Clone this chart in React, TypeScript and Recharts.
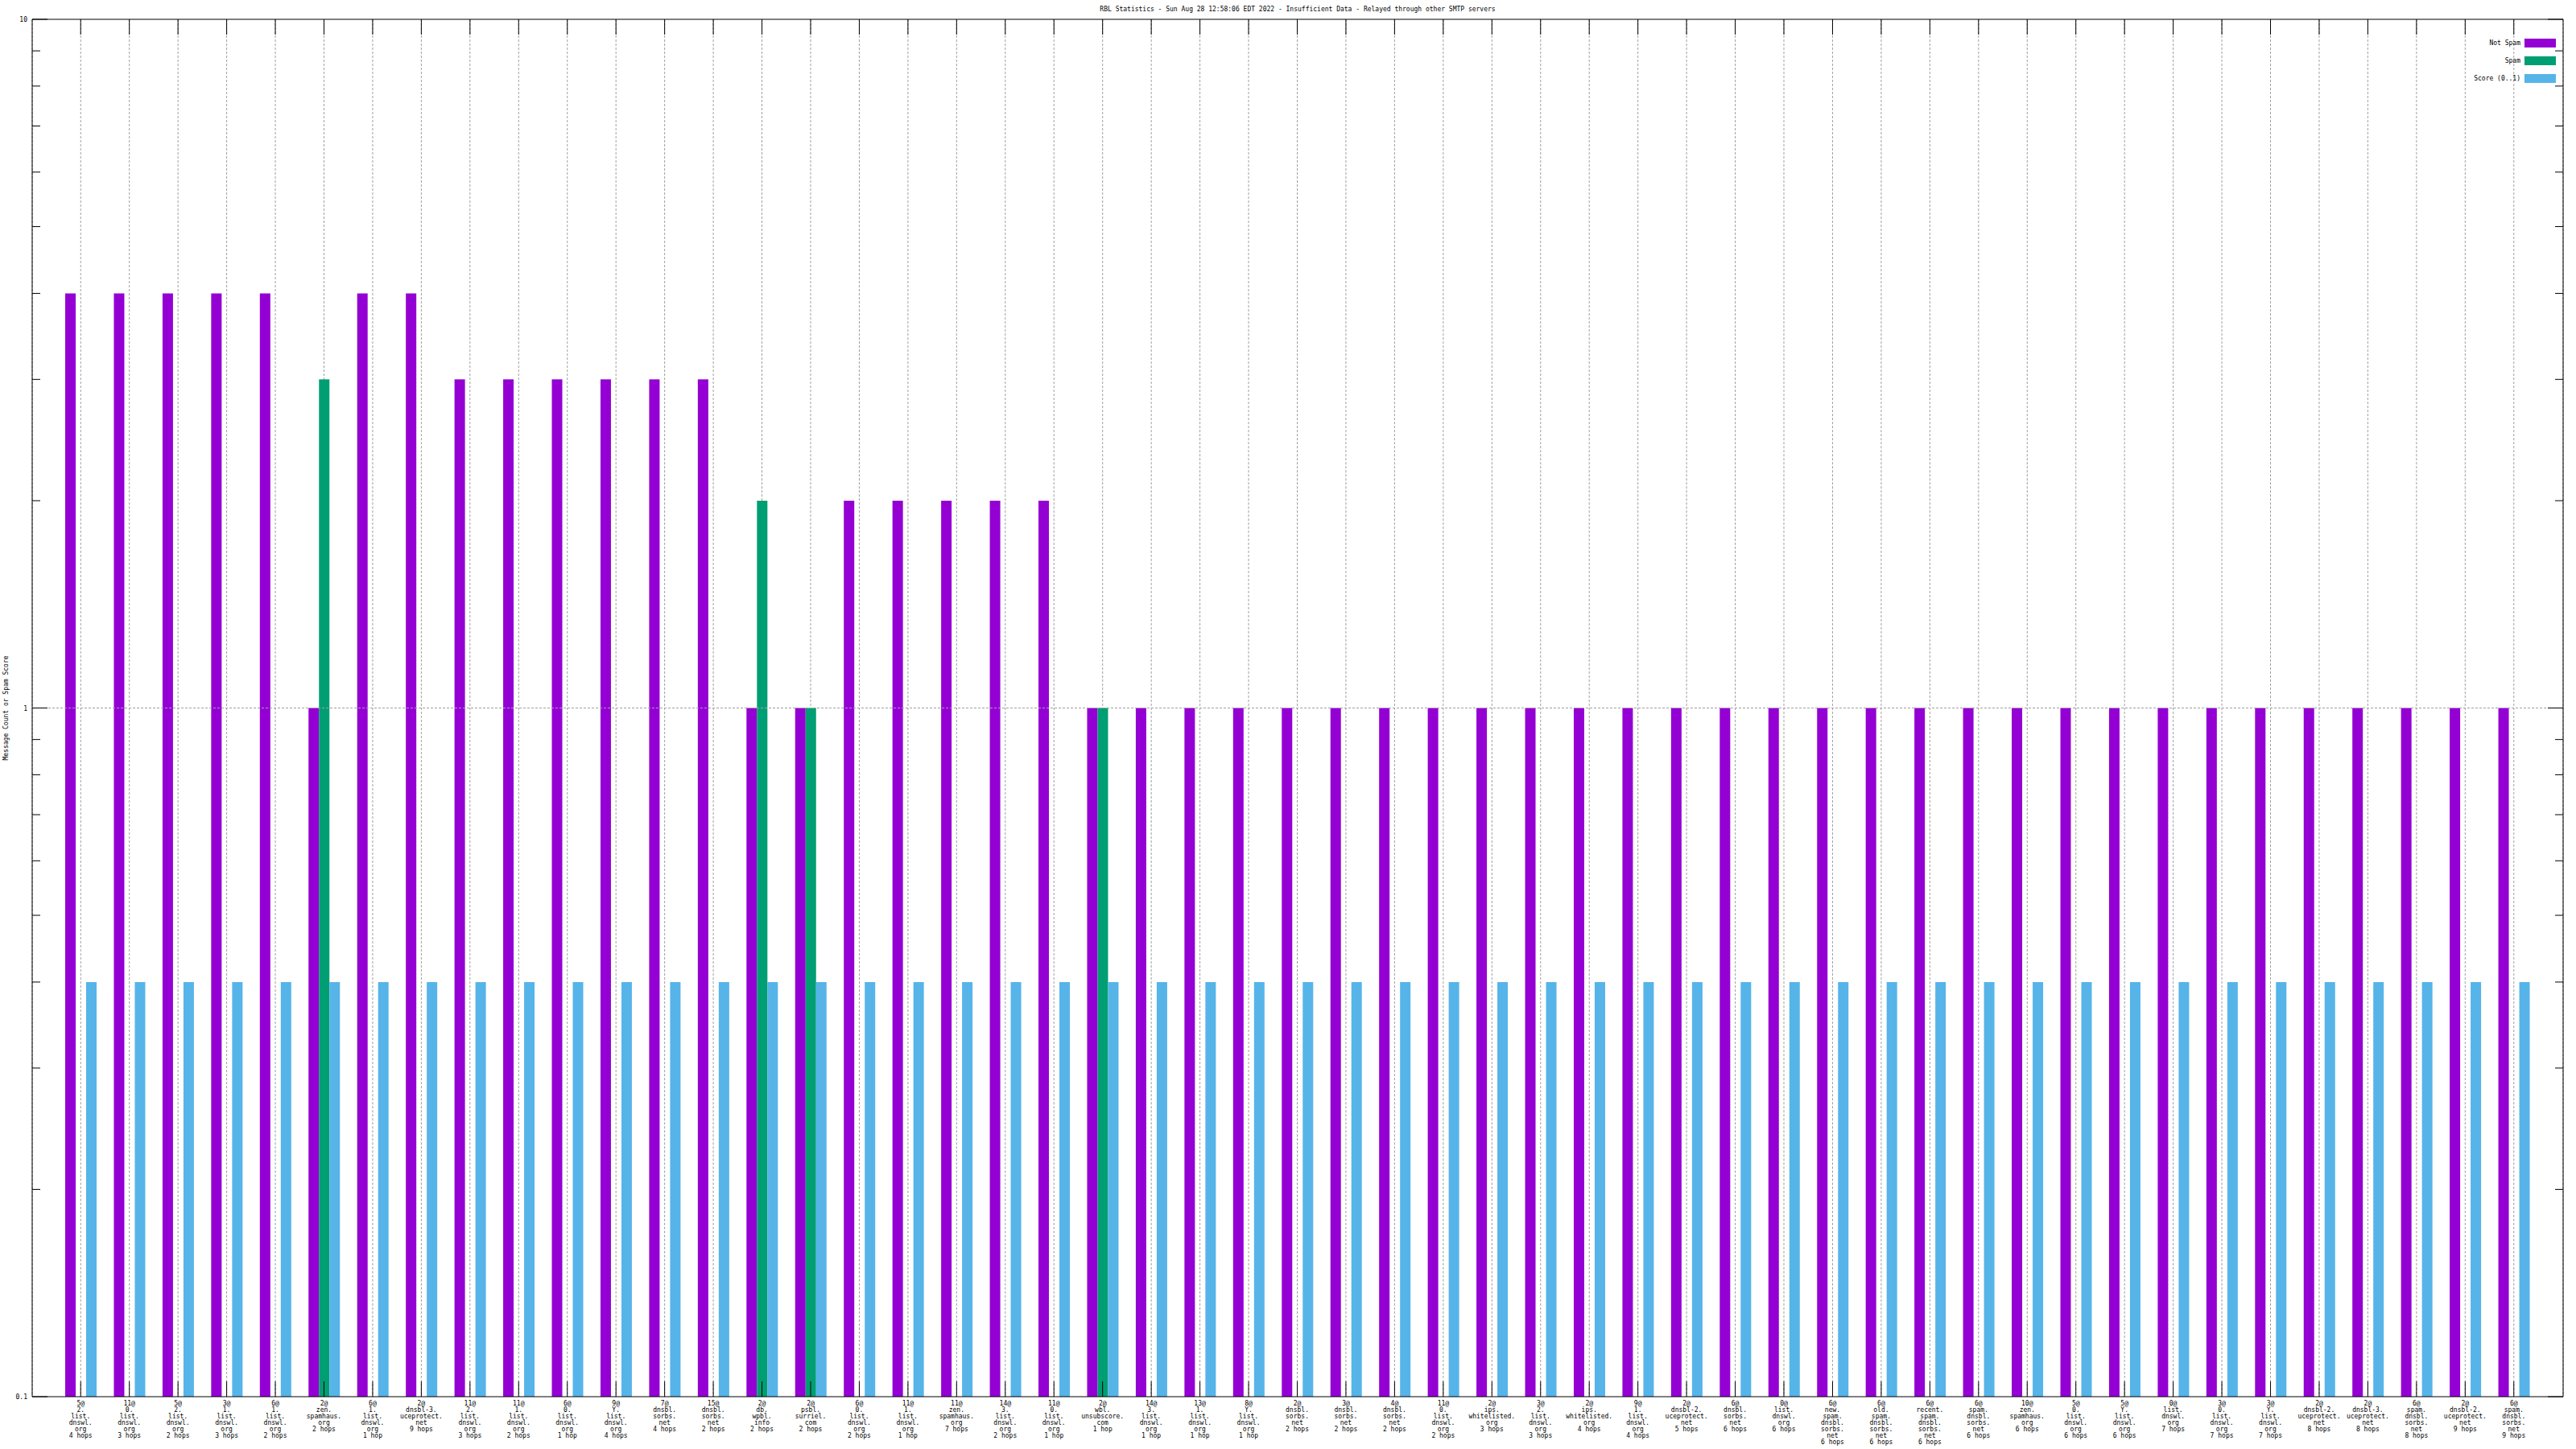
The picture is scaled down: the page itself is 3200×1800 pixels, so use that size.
import { BarChart, Bar, XAxis, YAxis, CartesianGrid, ReferenceLine, Legend } from 'recharts';

const title = 'RBL Statistics - Sun Aug 28 12:58:06 EDT 2022 - Insufficient Data - Relayed through other SMTP servers';

// "<count>@<zone> <hops>"
const categories = [
  '5@2.list.dnswl.org 4 hops',
  '11@0.list.dnswl.org 3 hops',
  '5@2.list.dnswl.org 2 hops',
  '3@1.list.dnswl.org 3 hops',
  '6@1.list.dnswl.org 2 hops',
  '2@zen.spamhaus.org 2 hops',
  '6@1.list.dnswl.org 1 hop',
  '2@dnsbl-3.uceprotect.net 9 hops',
  '11@2.list.dnswl.org 3 hops',
  '11@1.list.dnswl.org 2 hops',
  '6@0.list.dnswl.org 1 hop',
  '9@Y.list.dnswl.org 4 hops',
  '7@dnsbl.sorbs.net 4 hops',
  '15@dnsbl.sorbs.net 2 hops',
  '2@db.wpbl.info 2 hops',
  '2@psbl.surriel.com 2 hops',
  '6@0.list.dnswl.org 2 hops',
  '11@1.list.dnswl.org 1 hop',
  '11@zen.spamhaus.org 7 hops',
  '14@3.list.dnswl.org 2 hops',
  '11@0.list.dnswl.org 1 hop',
  '2@wbl.unsubscore.com 1 hop',
  '14@3.list.dnswl.org 1 hop',
  '13@1.list.dnswl.org 1 hop',
  '8@Y.list.dnswl.org 1 hop',
  '2@dnsbl.sorbs.net 2 hops',
  '3@dnsbl.sorbs.net 2 hops',
  '4@dnsbl.sorbs.net 2 hops',
  '11@0.list.dnswl.org 2 hops',
  '2@ips.whitelisted.org 3 hops',
  '3@2.list.dnswl.org 3 hops',
  '2@ips.whitelisted.org 4 hops',
  '9@1.list.dnswl.org 4 hops',
  '2@dnsbl-2.uceprotect.net 5 hops',
  '6@dnsbl.sorbs.net 6 hops',
  '0@list.dnswl.org 6 hops',
  '6@new.spam.dnsbl.sorbs.net 6 hops',
  '6@old.spam.dnsbl.sorbs.net 6 hops',
  '6@recent.spam.dnsbl.sorbs.net 6 hops',
  '6@spam.dnsbl.sorbs.net 6 hops',
  '10@zen.spamhaus.org 6 hops',
  '5@0.list.dnswl.org 6 hops',
  '5@Y.list.dnswl.org 6 hops',
  '0@list.dnswl.org 7 hops',
  '3@0.list.dnswl.org 7 hops',
  '3@Y.list.dnswl.org 7 hops',
  '2@dnsbl-2.uceprotect.net 8 hops',
  '2@dnsbl-3.uceprotect.net 8 hops',
  '6@spam.dnsbl.sorbs.net 8 hops',
  '2@dnsbl-2.uceprotect.net 9 hops',
  '6@spam.dnsbl.sorbs.net 9 hops',
];

const seriesNames = ['Not Spam', 'Spam', 'Score (0..1)'];

const notSpam = [
  4, 4, 4, 4, 4, 1, 4, 4, 3, 3,
  3, 3, 3, 3, 1, 1, 2, 2, 2, 2,
  2, 1, 1, 1, 1, 1, 1, 1, 1, 1,
  1, 1, 1, 1, 1, 1, 1, 1, 1, 1,
  1, 1, 1, 1, 1, 1, 1, 1, 1, 1,
  1,
];

const spam = [
  null, null, null, null, null, 3, null, null, null, null,
  null, null, null, null, 2, 1, null, null, null, null,
  null, 1, null, null, null, null, null, null, null, null,
  null, null, null, null, null, null, null, null, null, null,
  null, null, null, null, null, null, null, null, null, null,
  null,
];

const score = [
  0.4, 0.4, 0.4, 0.4, 0.4, 0.4, 0.4, 0.4, 0.4, 0.4,
  0.4, 0.4, 0.4, 0.4, 0.4, 0.4, 0.4, 0.4, 0.4, 0.4,
  0.4, 0.4, 0.4, 0.4, 0.4, 0.4, 0.4, 0.4, 0.4, 0.4,
  0.4, 0.4, 0.4, 0.4, 0.4, 0.4, 0.4, 0.4, 0.4, 0.4,
  0.4, 0.4, 0.4, 0.4, 0.4, 0.4, 0.4, 0.4, 0.4, 0.4,
  0.4,
];

const yTicks = [0.1, 0.2, 0.3, 0.4, 0.5, 0.6, 0.7, 0.8, 0.9, 1, 2, 3, 4, 5, 6, 7, 8, 9, 10];
const yLabelled = [0.1, 1, 10];

const data = categories.map((name, i) => ({
  name,
  notSpam: notSpam[i],
  spam: spam[i],
  score: score[i],
}));

const FONT = '"DejaVu Sans Mono", monospace';
const GRID = '#a0a0a0';

function XTick({ x, y, payload }: any) {
  const s: string = payload.value;
  const cut = s.indexOf(' ');
  const lines = s.slice(0, cut).split(/(?<=[@.])/).concat(s.slice(cut + 1));
  return (
    <g>
      <line x1={x} x2={x} y1={y} y2={y - 19} stroke="#000" />
      <text x={x} y={y} textAnchor="middle" fontSize={8} fontFamily={FONT} fill="#000">
        {lines.map((l, i) => (
          <tspan key={i} x={x} y={y + 11 + i * 8}>{l}</tspan>
        ))}
      </text>
    </g>
  );
}

// top frame: ticks only, pointing into the plot
function TopTick({ x, y }: any) {
  return <line x1={x} x2={x} y1={y} y2={y + 19} stroke="#000" />;
}

function YTick({ x, y, payload, side }: any) {
  const v: number = payload.value;
  const major = yLabelled.includes(v);
  const len = major ? 19 : 10;
  const dir = side === 'left' ? 1 : -1;
  return (
    <g>
      <line x1={x} x2={x + dir * len} y1={y} y2={y} stroke="#000" />
      {side === 'left' && major && (
        <text x={x - 6} y={y} dy={3} textAnchor="end" fontSize={8} fontFamily={FONT} fill="#000">
          {String(v)}
        </text>
      )}
    </g>
  );
}

function LegendBox({ payload }: any) {
  return (
    <div style={{ fontFamily: FONT, fontSize: 8, color: '#000' }}>
      {payload
        .filter((e: any) => e.type !== 'none')
        .map((e: any) => (
          <div key={e.value} style={{ display: 'flex', alignItems: 'center', justifyContent: 'flex-end', height: 22 }}>
            <span>{e.value}</span>
            <span style={{ display: 'inline-block', width: 39, height: 11, background: e.color, marginLeft: 5 }} />
          </div>
        ))}
    </div>
  );
}

export default function App() {
  return (
    <div style={{ position: 'absolute', left: 0, top: 0, width: 3200, height: 1800, background: '#fff' }}>
      <div
        style={{
          position: 'absolute', left: 40, top: 8, width: 3144, textAlign: 'center',
          fontFamily: FONT, fontSize: 8, lineHeight: '8px', color: '#000', zIndex: 2,
        }}
      >
        {title}
      </div>
      <BarChart
        width={3200}
        height={1800}
        data={data}
        margin={{ top: 23, right: 15, bottom: 0, left: 0 }}
        barGap={0}
        barSize={13}
      >
        <CartesianGrid vertical horizontal={false} stroke={GRID} strokeDasharray="3 2" />
        <XAxis
          dataKey="name"
          height={65}
          interval={0}
          padding={{ left: 30, right: 31 }}
          tickSize={0}
          tickMargin={0}
          tickLine={false}
          axisLine={{ stroke: '#000' }}
          tick={<XTick />}
        />
        <XAxis
          xAxisId="top"
          dataKey="name"
          orientation="top"
          height={1}
          interval={0}
          padding={{ left: 30, right: 31 }}
          tickSize={0}
          tickMargin={0}
          tickLine={false}
          axisLine={{ stroke: '#000' }}
          tick={<TopTick />}
        />
        <YAxis
          scale="log"
          type="number"
          domain={[0.1, 10]}
          allowDataOverflow
          ticks={yTicks}
          interval={0}
          width={40}
          tickSize={0}
          tickMargin={0}
          tickLine={false}
          axisLine={{ stroke: '#000' }}
          tick={<YTick side="left" />}
          label={(props: any) => {
            const vb = props.viewBox;
            const cx = vb.x + 7;
            const cy = vb.y + vb.height / 2;
            return (
              <text
                x={cx}
                y={cy}
                transform={`rotate(-90 ${cx} ${cy})`}
                textAnchor="middle"
                dominantBaseline="central"
                fontSize={8}
                fontFamily={FONT}
                fill="#000"
              >
                Message Count or Spam Score
              </text>
            );
          }}
        />
        <YAxis
          yAxisId="right"
          orientation="right"
          scale="log"
          type="number"
          domain={[0.1, 10]}
          allowDataOverflow
          ticks={yTicks}
          interval={0}
          width={1}
          tickSize={0}
          tickMargin={0}
          tickLine={false}
          axisLine={{ stroke: '#000' }}
          tick={<YTick side="right" />}
        />
        <ReferenceLine y={1} stroke={GRID} strokeDasharray="3 2" />
        <Legend
          layout="vertical"
          verticalAlign="middle"
          align="center"
          itemSorter={(item: any) => seriesNames.indexOf(item.value)}
          wrapperStyle={{ top: 42, right: 25, left: 'auto', bottom: 'auto', width: 'auto' }}
          content={<LegendBox />}
        />
        <Bar dataKey="notSpam" name={seriesNames[0]} fill="#9400d3" isAnimationActive={false} />
        <Bar dataKey="spam" name={seriesNames[1]} fill="#009e73" isAnimationActive={false} />
        <Bar dataKey="score" name={seriesNames[2]} fill="#56b4e9" isAnimationActive={false} />
        {/* empty series bound to the frame axes so they get a domain */}
        <Bar
          dataKey="frame"
          xAxisId="top"
          yAxisId="right"
          legendType="none"
          fill="none"
          isAnimationActive={false}
        />
      </BarChart>
    </div>
  );
}
